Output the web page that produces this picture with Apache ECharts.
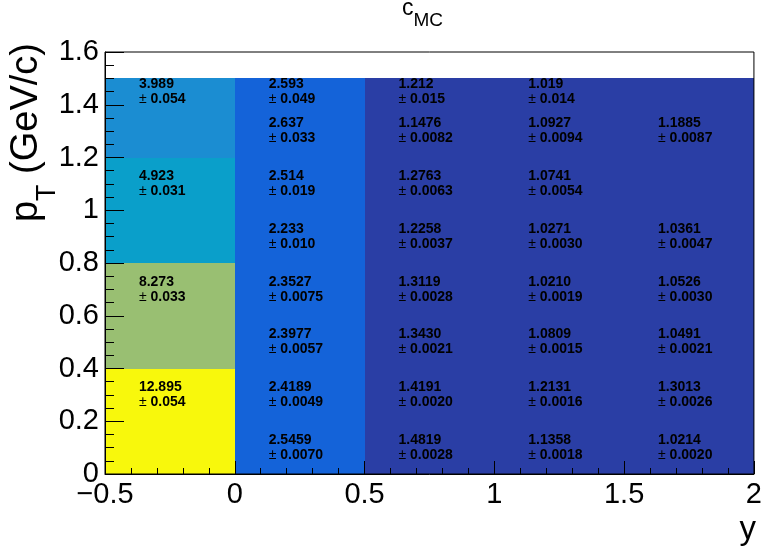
<!DOCTYPE html>
<html><head><meta charset="utf-8">
<script src="https://cdn.jsdelivr.net/npm/echarts@6/dist/echarts.min.js"></script>
<style>html,body{margin:0;padding:0;background:#fff}#c{width:765px;height:551px}</style>
</head><body><div id="c"></div>
<script>
// bin edges
const xEdges = [-0.5, 0, 0.5, 1, 1.5, 2];
const yEdges = [0, 0.2, 0.4, 0.6, 0.8, 1.0, 1.2, 1.4, 1.5];
// tick labels
const xTickLabels = ['\u22120.5', '0', '0.5', '1', '1.5', '2'];
const yTickLabels = ['0', '0.2', '0.4', '0.6', '0.8', '1', '1.2', '1.4', '1.6'];
// cell values per y-column (rows bottom -> top)
const col0Values = [12.895, 12.895, 8.273, 8.273, 4.923, 4.923, 3.989, 3.989];
const col1Values = [2.5459, 2.4189, 2.3977, 2.3527, 2.233, 2.514, 2.637, 2.593];
const col2Values = [1.4819, 1.4191, 1.3430, 1.3119, 1.2258, 1.2763, 1.1476, 1.212];
const col3Values = [1.1358, 1.2131, 1.0809, 1.0210, 1.0271, 1.0741, 1.0927, 1.019];
const col4Values = [1.0214, 1.3013, 1.0491, 1.0526, 1.0361, 1.05, 1.1885, 1.05];
// printed texts (null = no text)
const col0Text = [null, '12.895', null, '8.273', null, '4.923', null, '3.989'];
const col0Err  = [null, '0.054', null, '0.033', null, '0.031', null, '0.054'];
const col1Text = ['2.5459', '2.4189', '2.3977', '2.3527', '2.233', '2.514', '2.637', '2.593'];
const col1Err  = ['0.0070', '0.0049', '0.0057', '0.0075', '0.010', '0.019', '0.033', '0.049'];
const col2Text = ['1.4819', '1.4191', '1.3430', '1.3119', '1.2258', '1.2763', '1.1476', '1.212'];
const col2Err  = ['0.0028', '0.0020', '0.0021', '0.0028', '0.0037', '0.0063', '0.0082', '0.015'];
const col3Text = ['1.1358', '1.2131', '1.0809', '1.0210', '1.0271', '1.0741', '1.0927', '1.019'];
const col3Err  = ['0.0018', '0.0016', '0.0015', '0.0019', '0.0030', '0.0054', '0.0094', '0.014'];
const col4Text = ['1.0214', '1.3013', '1.0491', '1.0526', '1.0361', null, '1.1885', null];
const col4Err  = ['0.0020', '0.0026', '0.0021', '0.0030', '0.0047', null, '0.0087', null];

const allValues = [col0Values, col1Values, col2Values, col3Values, col4Values];
const allText = [col0Text, col1Text, col2Text, col3Text, col4Text];
const allErr = [col0Err, col1Err, col2Err, col3Err, col4Err];

const data = [];
allValues.forEach((col, c) => col.forEach((v, r) => data.push([c, r, v])));

const FONT = "'Liberation Sans', Arial, Helvetica, sans-serif";
const chart = echarts.init(document.getElementById('c'), null, {renderer: 'canvas'});

const cellRich = {
  v: {fontFamily: FONT, fontSize: 14, fontWeight: 'bold', color: '#000', lineHeight: 15, align: 'left'},
  pm: {fontFamily: FONT, fontSize: 14, fontWeight: 'normal', color: '#000', lineHeight: 15, align: 'left'},
  e: {fontFamily: FONT, fontSize: 14, fontWeight: 'bold', color: '#000', lineHeight: 15, align: 'left'}
};

chart.setOption({
  backgroundColor: '#fff',
  animation: false,
  grid: {left: 105, right: 9, top: 52, bottom: 77, show: true, borderColor: '#000', borderWidth: 1, backgroundColor: 'transparent', z: 5},
  xAxis: {
    type: 'value', min: -0.5, max: 2, interval: 0.5, z: 6,
    splitLine: {show: false},
    axisLine: {show: true, onZero: false, lineStyle: {color: '#000', width: 1}},
    axisTick: {show: true, inside: true, length: 13, lineStyle: {color: '#000', width: 1}},
    minorTick: {show: true, splitNumber: 5, length: 6, lineStyle: {color: '#000', width: 1}},
    axisLabel: {
      fontFamily: FONT, fontSize: 29, color: '#000', margin: 6,
      formatter: (v) => xTickLabels[Math.round((v + 0.5) / 0.5)]
    }
  },
  yAxis: {
    type: 'value', min: 0, max: 1.6, interval: 0.2, z: 6,
    splitLine: {show: false},
    axisLine: {show: true, onZero: false, lineStyle: {color: '#000', width: 1}},
    axisTick: {show: true, inside: true, length: 19, lineStyle: {color: '#000', width: 1}},
    minorTick: {show: true, splitNumber: 4, length: 9, lineStyle: {color: '#000', width: 1}},
    axisLabel: {
      fontFamily: FONT, fontSize: 29, color: '#000', margin: 6,
      formatter: (v) => yTickLabels[Math.round(v / 0.2)]
    }
  },
  visualMap: {
    type: 'piecewise', show: false, dimension: 2, seriesIndex: 0,
    pieces: [
      {gte: 10, color: '#f8f80c'},
      {gte: 6, lt: 10, color: '#99bf72'},
      {gte: 4.5, lt: 6, color: '#0a9fca'},
      {gte: 3, lt: 4.5, color: '#1b8dd2'},
      {gte: 2, lt: 3, color: '#1463d9'},
      {lt: 2, color: '#2a3ea5'}
    ]
  },
  graphic: [
    {
      type: 'text', x: 402, y: 9, z: 100,
      style: {
        text: '{m|c}{s|MC}', align: 'left', verticalAlign: 'middle',
        rich: {
          m: {fontFamily: FONT, fontSize: 23, color: '#000', lineHeight: 42},
          s: {fontFamily: FONT, fontSize: 19, color: '#000', lineHeight: 19, verticalAlign: 'bottom'}
        }
      }
    },
    {
      type: 'text', x: 27, y: 43, rotation: Math.PI / 2, z: 100,
      style: {
        text: '{m|p}{s|T}{m| (GeV/c)}', align: 'right', verticalAlign: 'middle',
        rich: {
          m: {fontFamily: FONT, fontSize: 38, color: '#000', lineHeight: 68},
          s: {fontFamily: FONT, fontSize: 27, color: '#000', lineHeight: 27, verticalAlign: 'bottom'}
        }
      }
    },
    {
      type: 'text', x: 756, y: 530, z: 100,
      style: {text: 'y', align: 'right', verticalAlign: 'middle', fontFamily: FONT, fontSize: 33, fill: '#000'}
    }
  ],
  series: [{
    type: 'custom', z: 2,
    data: data,
    encode: {x: -1, y: -1},
    renderItem: function (params, api) {
      const c = api.value(0), r = api.value(1);
      const p0 = api.coord([xEdges[c], yEdges[r]]);
      const p1 = api.coord([xEdges[c + 1], yEdges[r + 1]]);
      const xa = Math.round(p0[0]), xb = Math.round(p1[0]);
      const ya = Math.round(p1[1]), yb = Math.round(p0[1]);
      const color = api.visual('color');
      const children = [{
        type: 'rect',
        shape: {x: xa, y: ya, width: xb - xa, height: yb - ya},
        style: {fill: color}
      }];
      const t = allText[c][r];
      if (t) {
        children.push({
          type: 'text', z2: 10,
          style: {
            x: (p0[0] + p1[0]) / 2 - 31, y: (p0[1] + p1[1]) / 2,
            text: '{v|' + t + '}\n{pm|\u00b1}{e| ' + allErr[c][r] + '}',
            align: 'left', verticalAlign: 'middle', rich: cellRich
          }
        });
      }
      return {type: 'group', children: children};
    }
  }]
});
</script>
</body></html>
